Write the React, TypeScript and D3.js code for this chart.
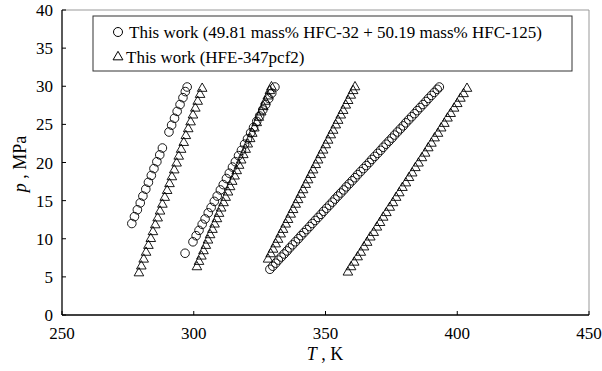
import React from 'react';
import * as d3 from 'd3';

// mixture isochores, [T (K), p (MPa)]
const mixIso1: [number, number][] = [
  [276.5, 12.0], [277.5, 12.9], [278.6, 13.8], [279.7, 14.7], [280.7, 15.6], [281.8, 16.5],
  [282.8, 17.4], [283.9, 18.3], [284.9, 19.2], [286.0, 20.1], [287.1, 21.0], [288.1, 21.9],
  [290.6, 24.0], [291.6, 24.9], [292.7, 25.8], [293.7, 26.7], [294.8, 27.6], [295.9, 28.5],
  [296.8, 29.3], [297.5, 29.9],
];
const mixIso2: [number, number][] = [
  [296.7, 8.1], [299.7, 9.6], [300.9, 10.4], [302.0, 11.1], [303.2, 11.9], [304.3, 12.6],
  [305.5, 13.4], [306.6, 14.1], [307.8, 14.9], [308.9, 15.6], [310.1, 16.4], [311.2, 17.1],
  [312.4, 17.9], [313.5, 18.6], [314.7, 19.4], [315.8, 20.1], [317.0, 20.9], [318.1, 21.6],
  [319.3, 22.4], [320.4, 23.1], [321.6, 23.9], [322.7, 24.6], [323.9, 25.4], [325.0, 26.1],
  [326.2, 26.9], [327.3, 27.6], [328.5, 28.4], [329.6, 29.1], [330.8, 29.9],
];
const mixIso3: [number, number][] = [
  [328.9, 6.0], [330.0, 6.4], [331.1, 6.8], [332.1, 7.2], [333.2, 7.6], [334.3, 8.0],
  [335.4, 8.4], [336.4, 8.8], [337.5, 9.2], [338.6, 9.6], [339.7, 10.0], [340.7, 10.4],
  [341.8, 10.8], [342.9, 11.2], [344.0, 11.6], [345.0, 12.0], [346.1, 12.4], [347.2, 12.8],
  [348.3, 13.2], [349.3, 13.6], [350.4, 14.0], [351.5, 14.4], [352.6, 14.8], [353.6, 15.2],
  [354.7, 15.6], [355.8, 16.0], [356.9, 16.4], [357.9, 16.8], [359.0, 17.2], [360.1, 17.6],
  [361.2, 18.0], [362.2, 18.4], [363.3, 18.8], [364.4, 19.2], [365.5, 19.6], [366.6, 20.0],
  [367.6, 20.4], [368.7, 20.8], [369.8, 21.2], [370.9, 21.6], [371.9, 22.0], [373.0, 22.4],
  [374.1, 22.8], [375.2, 23.2], [376.2, 23.6], [377.3, 24.0], [378.4, 24.4], [379.5, 24.8],
  [380.5, 25.2], [381.6, 25.6], [382.7, 26.0], [383.8, 26.4], [384.8, 26.8], [385.9, 27.2],
  [387.0, 27.6], [388.1, 28.0], [389.1, 28.4], [390.2, 28.8], [391.3, 29.2], [392.4, 29.6],
  [393.2, 29.9],
];

// HFE-347pcf2 isochores
const hfeIso1: [number, number][] = [
  [279.2, 5.5], [280.1, 6.4], [281.0, 7.3], [281.9, 8.2], [282.8, 9.1], [283.7, 10.0],
  [284.5, 10.9], [285.4, 11.8], [286.3, 12.7], [287.2, 13.6], [288.1, 14.5], [289.0, 15.4],
  [289.9, 16.3], [290.8, 17.2], [291.7, 18.1], [292.6, 19.0], [293.5, 19.9], [294.3, 20.8],
  [295.2, 21.7], [296.2, 22.6], [297.0, 23.5], [297.9, 24.4], [298.8, 25.3], [299.7, 26.2],
  [300.6, 27.1], [301.5, 28.0], [302.4, 28.9], [303.2, 29.7],
];
const hfeIso2: [number, number][] = [
  [301.2, 6.3], [302.0, 7.0], [302.9, 7.7], [303.7, 8.4], [304.6, 9.1], [305.4, 9.8],
  [306.2, 10.5], [307.1, 11.2], [307.9, 11.9], [308.8, 12.6], [309.6, 13.3], [310.4, 14.0],
  [311.3, 14.7], [312.1, 15.4], [313.0, 16.1], [313.8, 16.8], [314.6, 17.5], [315.5, 18.2],
  [316.3, 18.9], [317.2, 19.6], [318.0, 20.3], [318.8, 21.0], [319.7, 21.7], [320.5, 22.4],
  [321.4, 23.1], [322.2, 23.8], [323.0, 24.5], [323.9, 25.2], [324.7, 25.9], [325.6, 26.6],
  [326.4, 27.3], [327.2, 28.0], [328.1, 28.7], [328.9, 29.4], [329.5, 29.9],
];
const hfeIso3: [number, number][] = [
  [328.2, 7.3], [329.2, 8.0], [330.1, 8.6], [331.1, 9.3], [332.0, 9.9], [333.0, 10.6],
  [333.9, 11.2], [334.9, 11.9], [335.8, 12.5], [336.8, 13.2], [337.7, 13.8], [338.7, 14.5],
  [339.6, 15.1], [340.6, 15.8], [341.5, 16.4], [342.5, 17.1], [343.4, 17.7], [344.4, 18.4],
  [345.3, 19.0], [346.3, 19.7], [347.2, 20.3], [348.2, 21.0], [349.1, 21.6], [350.1, 22.3],
  [351.0, 22.9], [352.0, 23.6], [352.9, 24.2], [353.9, 24.9], [354.8, 25.5], [355.8, 26.2],
  [356.7, 26.8], [357.7, 27.5], [358.6, 28.1], [359.6, 28.8], [360.5, 29.4], [361.2, 29.9],
];
const hfeIso4: [number, number][] = [
  [358.5, 5.6], [359.7, 6.3], [360.9, 6.9], [362.2, 7.6], [363.4, 8.2], [364.6, 8.9],
  [365.8, 9.5], [367.0, 10.2], [368.3, 10.8], [369.5, 11.5], [370.7, 12.1], [371.9, 12.8],
  [373.1, 13.4], [374.4, 14.1], [375.6, 14.7], [376.8, 15.4], [378.0, 16.0], [379.2, 16.7],
  [380.5, 17.3], [381.7, 18.0], [382.9, 18.6], [384.1, 19.3], [385.3, 19.9], [386.6, 20.6],
  [387.8, 21.2], [389.0, 21.9], [390.2, 22.5], [391.4, 23.2], [392.7, 23.8], [393.9, 24.5],
  [395.1, 25.1], [396.3, 25.8], [397.5, 26.4], [398.8, 27.1], [400.0, 27.7], [401.2, 28.4],
  [402.4, 29.0], [403.7, 29.7],
];

const xTicks = [250, 300, 350, 400, 450];
const yTicks = [0, 5, 10, 15, 20, 25, 30, 35, 40];
const legendLabels = [
  'This work (49.81 mass% HFC-32 + 50.19 mass% HFC-125)',
  'This work (HFE-347pcf2)',
];

const W = 602;
const H = 371;
const SERIF = 'Liberation Serif';

const App: React.FC = () => {
  const x = d3.scaleLinear().domain([250, 450]).range([62, 589]);
  const y = d3.scaleLinear().domain([0, 40]).range([315, 10]);

  const circles = [...mixIso1, ...mixIso2, ...mixIso3];
  const triangles = [...hfeIso1, ...hfeIso2, ...hfeIso3, ...hfeIso4];
  const tri = d3.symbol().type(d3.symbolTriangle).size(40)() as string;
  const triLegend = d3.symbol().type(d3.symbolTriangle).size(42)() as string;

  return (
    <svg width={W} height={H} fontFamily={SERIF}
      style={{ position: 'absolute', left: 0, top: 0, background: '#fff' }}>
      {/* frame */}
      <line x1={x(250)} x2={x(450)} y1={y(40)} y2={y(40)} stroke="#999" strokeWidth={1} />
      <line x1={x(450)} x2={x(450)} y1={y(40)} y2={y(0)} stroke="#999" strokeWidth={1} />
      <line x1={x(250)} x2={x(250)} y1={y(40)} y2={y(0)} stroke="#000" strokeWidth={1.3} />
      <line x1={x(250)} x2={x(450)} y1={y(0)} y2={y(0)} stroke="#000" strokeWidth={1.3} />

      {yTicks.map(t => (
        <g key={'y' + t}>
          <line x1={x(250)} x2={x(250) + 4} y1={y(t)} y2={y(t)} stroke="#000" strokeWidth={1} />
          <text x={x(250) - 9} y={y(t) + 6} textAnchor="end" fontSize={17} fontFamily={SERIF}>{t}</text>
        </g>
      ))}
      {xTicks.map(t => (
        <g key={'x' + t}>
          <line x1={x(t)} x2={x(t)} y1={y(0)} y2={y(0) - 4} stroke="#000" strokeWidth={1} />
          <text x={x(t)} y={y(0) + 24} textAnchor="middle" fontSize={17} fontFamily={SERIF}>{t}</text>
        </g>
      ))}

      <text x={325} y={360} textAnchor="middle" fontSize={18} fontFamily={SERIF}>
        <tspan fontStyle="italic">T</tspan> , K
      </text>
      <text transform="translate(26,164) rotate(-90)" textAnchor="middle" fontSize={18} fontFamily={SERIF}>
        <tspan fontStyle="italic">p</tspan> , MPa
      </text>

      {/* data */}
      {triangles.map((d, i) => (
        <path key={'t' + i} d={tri} transform={`translate(${x(d[0])},${y(d[1])})`}
          fill="none" stroke="#000" strokeWidth={0.9} />
      ))}
      {circles.map((d, i) => (
        <circle key={'c' + i} cx={x(d[0])} cy={y(d[1])} r={4.3}
          fill="none" stroke="#000" strokeWidth={0.9} />
      ))}

      {/* legend */}
      <rect x={93} y={16} width={479} height={55} fill="#fff" stroke="#333" strokeWidth={1} />
      <circle cx={118} cy={32} r={4.5} fill="none" stroke="#000" strokeWidth={1} />
      <path d={triLegend} transform="translate(118,57)" fill="none" stroke="#000" strokeWidth={1} />
      <text x={129} y={38} fontSize={17} fontFamily={SERIF}>{legendLabels[0]}</text>
      <text x={126} y={63} fontSize={17} fontFamily={SERIF}>{legendLabels[1]}</text>
    </svg>
  );
};

export default App;
